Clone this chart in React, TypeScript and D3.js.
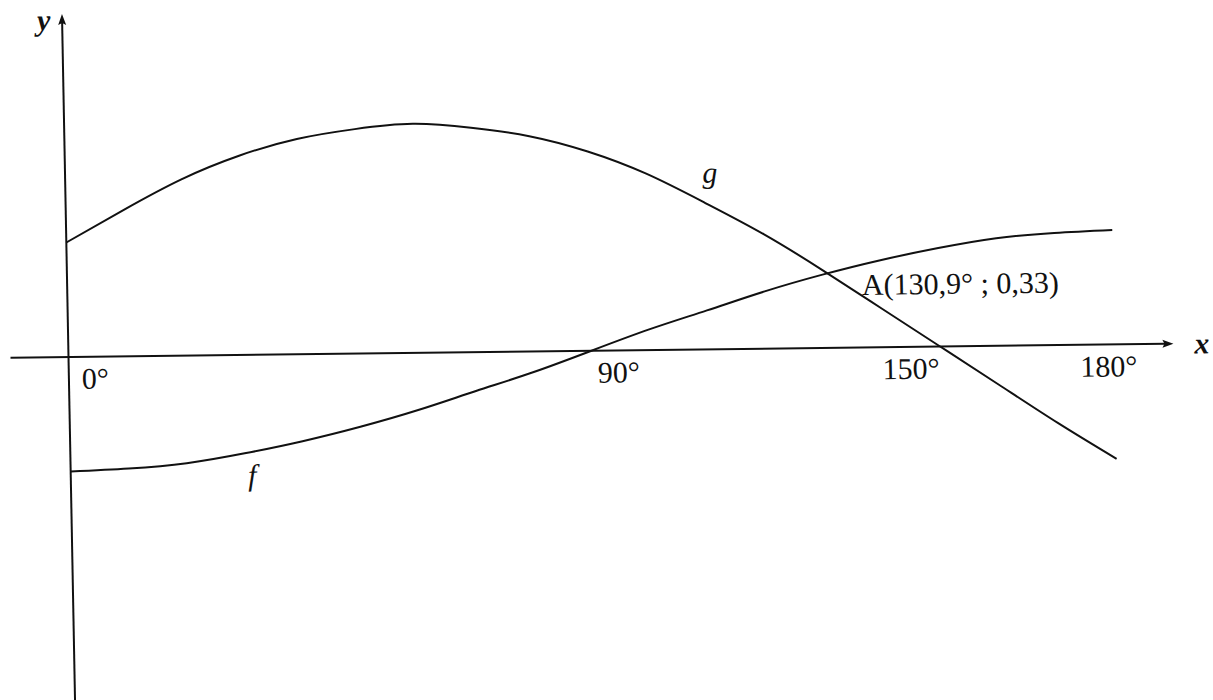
import React from 'react';
import * as d3 from 'd3';

// angle in degrees, sampled every 10°
const DEGREES = [0, 10, 20, 30, 40, 50, 60, 70, 80, 90, 100, 110, 120, 130, 140, 150, 160, 170, 180];
// f
const F_VALUES = [-0.5, -0.49, -0.47, -0.43, -0.38, -0.32, -0.25, -0.17, -0.09, 0, 0.09, 0.17, 0.25, 0.32, 0.38, 0.43, 0.47, 0.49, 0.5];
// g
const G_VALUES = [0.5, 0.64, 0.77, 0.87, 0.94, 0.98, 1.0, 0.98, 0.94, 0.87, 0.77, 0.64, 0.5, 0.34, 0.17, 0, -0.17, -0.34, -0.5];

const X_TICKS = [0, 90, 150, 180];
const X_TICK_LABELS = ['0°', '90°', '150°', '180°'];

const POINT_A = { x: 130.9, y: 0.33 };
const POINT_A_LABEL = 'A(130,9° ; 0,33)';

const WIDTH = 1213;
const HEIGHT = 700;
const FONT = '"Liberation Serif", "Times New Roman", serif';

export default function App() {
  // plot frame: origin at the axes crossing, the scan is slightly tilted
  const x = d3.scaleLinear().domain([0, 180]).range([0, 1046]);
  const y = d3.scaleLinear().domain([-1, 1]).range([229, -229]);

  const line = d3
    .line<number>()
    .x((_, i) => x(DEGREES[i]))
    .y((d) => y(d))
    .curve(d3.curveNatural);

  const fPath = line(F_VALUES) || '';
  const gPath = line(G_VALUES) || '';

  // tick label placement (anchor + shift from tick)
  const tickPlace = [
    { anchor: 'start', dx: 13 },
    { anchor: 'start', dx: 6 },
    { anchor: 'end', dx: -1 },
    { anchor: 'middle', dx: -6 },
  ];

  const xEnd = 1105;
  const yTop = -343;
  const gLabelIdx = DEGREES.indexOf(110);
  const fLabelIdx = DEGREES.indexOf(30);

  return (
    <svg
      width={WIDTH}
      height={HEIGHT}
      style={{ position: 'absolute', left: 0, top: 0, background: '#fff' }}
    >
      <g transform="matrix(0.99993,-0.01204,0.01902,0.99982,68.5,357)" fontFamily={FONT} fill="#111">
        {/* x axis */}
        <line x1={-58} y1={0} x2={xEnd - 8} y2={0} stroke="#111" strokeWidth={2} />
        <path d={`M${xEnd},0 L${xEnd - 11},-4 L${xEnd - 9},0 L${xEnd - 11},4 Z`} fill="#111" />
        {/* y axis */}
        <line x1={0} y1={yTop + 8} x2={0} y2={360} stroke="#111" strokeWidth={2} />
        <path d={`M0,${yTop} L-4,${yTop + 11} L0,${yTop + 9} L4,${yTop + 11} Z`} fill="#111" />

        {X_TICKS.map((t, i) => (
          <text
            key={t}
            x={x(t) + tickPlace[i].dx}
            y={32}
            fontSize={30}
            textAnchor={tickPlace[i].anchor as any}
          >
            {X_TICK_LABELS[i]}
          </text>
        ))}

        <path d={gPath} fill="none" stroke="#111" strokeWidth={2} />
        <path d={fPath} fill="none" stroke="#111" strokeWidth={2} />

        <text x={x(POINT_A.x) + 34} y={y(POINT_A.y) + 23} fontSize={30}>
          {POINT_A_LABEL}
        </text>

        <text x={x(DEGREES[gLabelIdx]) - 2} y={y(G_VALUES[gLabelIdx]) - 20} fontSize={30} fontStyle="italic">
          g
        </text>
        <text x={x(DEGREES[fLabelIdx]) + 3} y={y(F_VALUES[fLabelIdx]) + 32} fontSize={30} fontStyle="italic">
          f
        </text>

        <text x={xEnd + 21} y={10} fontSize={30} fontStyle="italic" fontWeight="bold">
          x
        </text>
        <text x={-25} y={yTop + 16} fontSize={30} fontStyle="italic" fontWeight="bold">
          y
        </text>
      </g>
    </svg>
  );
}
